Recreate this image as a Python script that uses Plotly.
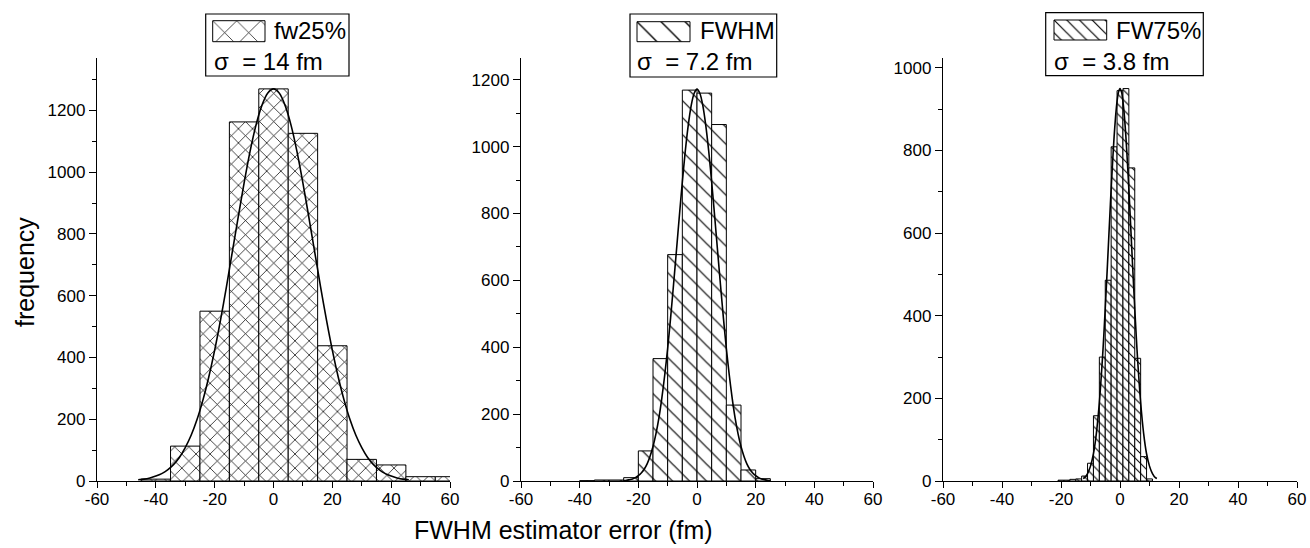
import plotly.graph_objects as go

# ---------------- data ----------------
p1_centers = [-40, -30, -20, -10, 0, 10, 20, 30, 40, 50, 60]
p1_counts = [6, 113, 550, 1163, 1270, 1126, 438, 70, 52, 14, 14]
p1_width = 10
p1_fit_x = [-46, -44, -42, -40, -38, -36, -34, -32, -30, -28, -26, -24, -22, -20, -18, -16,
            -14, -12, -10, -8, -6, -4, -2, 0, 2, 4, 6, 8, 10, 12, 14, 16, 18, 20, 22, 24,
            26, 28, 30, 32, 34, 36, 38, 40, 42, 44, 46]
p1_fit_y = [4, 6, 10, 16, 24, 36, 53, 76, 108, 148, 199, 262, 337, 424, 522, 629,
            742, 855, 965, 1066, 1151, 1215, 1256, 1270, 1256, 1215, 1151, 1066, 965, 855, 742, 629,
            522, 424, 337, 262, 199, 148, 108, 76, 53, 36, 24, 16, 10, 6, 4]

p2_centers = [-37.5, -32.5, -27.5, -22.5, -17.5, -12.5, -7.5, -2.5, 2.5, 7.5, 12.5, 17.5, 22.5]
p2_counts = [1, 3, 3, 10, 90, 366, 677, 1169, 1160, 1066, 227, 33, 7]
p2_width = 5
p2_fit_x = [-25, -24, -23, -22, -21, -20, -19, -18, -17, -16, -15, -14, -13, -12, -11, -10,
            -9, -8, -7, -6, -5, -4, -3, -2, -1, 0, 1, 2, 3, 4, 5, 6, 7, 8, 9, 10,
            11, 12, 13, 14, 15, 16, 17, 18, 19, 20, 21, 22, 23, 24, 25]
p2_fit_y = [1, 2, 4, 6, 10, 16, 24, 35, 51, 74, 103, 141, 188, 247, 317, 397,
            488, 587, 690, 794, 894, 986, 1063, 1122, 1159, 1172, 1159, 1122, 1063, 986, 894, 794,
            690, 587, 488, 397, 317, 247, 188, 141, 103, 74, 51, 35, 24, 16, 10, 6, 4, 2, 1]

p3_centers = [-20, -18, -16, -14, -12, -10, -8, -6, -4, -2, 0, 2, 4, 6, 8, 10]
p3_counts = [2, 2, 4, 5, 12, 43, 158, 300, 486, 809, 945, 950, 758, 297, 59, 5]
p3_width = 2
p3_fit_x = [-12.5, -12, -11, -10, -9, -8, -7, -6, -5.5, -5, -4.5, -4, -3.5, -3, -2.5, -2,
            -1.5, -1, -0.5, 0, 0.5, 1, 1.5, 2, 2.5, 3, 3.5, 4, 4.5, 5, 5.5, 6,
            7, 8, 9, 10, 11, 12, 12.5]
p3_fit_y = [6, 8, 18, 36, 66, 116, 190, 291, 351, 418, 488, 561, 635, 707, 773, 833,
            882, 919, 942, 950, 942, 919, 882, 833, 773, 707, 635, 561, 488, 418, 351, 291,
            190, 116, 66, 36, 18, 8, 6]

legend_names = ["fw25%", "FWHM", "FW75%"]
sigma_labels = ["σ\u00a0\u00a0= 14 fm", "σ\u00a0\u00a0= 7.2 fm", "σ\u00a0\u00a0= 3.8 fm"]
x_ticks = [-60, -40, -20, 0, 20, 40, 60]
x_tick_labels = ["-60", "-40", "-20", "0", "20", "40", "60"]
x_title = "FWHM estimator error (fm)"
y_title = "frequency"

# ---------------- layout helpers ----------------
W, H = 1310, 548
TOP_PX, BOT_PX = 10, 481          # plot-area pixel extent (margins t=10, b=67)
AX_TOP_PX = 58


def px_x(px):
    return px / W


def px_y(py):
    return (BOT_PX - py) / (BOT_PX - TOP_PX)


FONT = "Liberation Sans, Arial, sans-serif"

panels = [
    dict(centers=p1_centers, counts=p1_counts, width=p1_width, fx=p1_fit_x, fy=p1_fit_y,
         dom=(97, 450), yr=1370, shape="x", size=10, sol=0.14,
         box=(205.7, 349, 14, 76), sw=(212.7, 265, 20.7, 41.7), swsize=17, swsol=0.08,
         tx=272, sx=212),
    dict(centers=p2_centers, counts=p2_counts, width=p2_width, fx=p2_fit_x, fy=p2_fit_y,
         dom=(521, 873), yr=1265, shape="\\", size=12, sol=0.1,
         box=(630, 776.7, 14, 77), sw=(637, 690, 21.7, 41.7), swsize=17, swsol=0.08,
         tx=698, sx=635),
    dict(centers=p3_centers, counts=p3_counts, width=p3_width, fx=p3_fit_x, fy=p3_fit_y,
         dom=(943, 1297), yr=1024, shape="\\", size=7, sol=0.15,
         box=(1045.7, 1203.3, 12.7, 75.7), sw=(1054, 1106.7, 20, 40), swsize=9, swsol=0.13,
         tx=1114, sx=1052),
]

fig = go.Figure()
layout = dict(
    template="none",
    width=W, height=H,
    margin=dict(l=0, r=0, t=TOP_PX, b=H - BOT_PX, pad=0, autoexpand=False),
    paper_bgcolor="white", plot_bgcolor="white",
    showlegend=False,
    font=dict(family=FONT, size=17, color="black"),
)
shapes = []
annotations = []

ydom_top = px_y(AX_TOP_PX)

for i, p in enumerate(panels):
    k = i + 1
    xa = "x" if k == 1 else f"x{k}"
    ya = "y" if k == 1 else f"y{k}"
    fig.add_trace(go.Bar(
        x=p["centers"], y=p["counts"], width=p["width"],
        xaxis=xa, yaxis=ya,
        marker=dict(color="white",
                    line=dict(color="black", width=1),
                    pattern=dict(shape=p["shape"], size=p["size"], solidity=p["sol"],
                                 fgcolor="black", bgcolor="white")),
        hoverinfo="skip",
    ))
    fig.add_trace(go.Scatter(
        x=p["fx"], y=p["fy"], mode="lines", xaxis=xa, yaxis=ya,
        line=dict(color="black", width=1.6, shape="spline", smoothing=0.8),
        hoverinfo="skip",
    ))
    xkey = "xaxis" if k == 1 else f"xaxis{k}"
    ykey = "yaxis" if k == 1 else f"yaxis{k}"
    layout[xkey] = dict(
        domain=[px_x(p["dom"][0]), px_x(p["dom"][1])], anchor=ya, automargin=False,
        range=[-60, 60], tickvals=x_ticks, ticktext=x_tick_labels,
        ticks="outside", ticklen=6, tickwidth=1.2, ticklabelstandoff=-4,
        tickcolor="black", showline=True, linecolor="black", linewidth=1.3,
        showgrid=False, zeroline=False,
        minor=dict(dtick=10, tick0=0, ticks="outside", ticklen=4, tickwidth=1.2,
                   tickcolor="black", showgrid=False),
        tickfont=dict(family=FONT, size=17, color="black"),
    )
    layout[ykey] = dict(
        domain=[0, ydom_top], anchor=xa, automargin=False,
        range=[0, p["yr"]], dtick=200, tick0=0, ticks="outside", ticklen=7, tickwidth=1.2,
        tickcolor="black", showline=True, linecolor="black", linewidth=1.3,
        showgrid=False, zeroline=False,
        minor=dict(dtick=100, tick0=0, ticks="outside", ticklen=4, tickwidth=1.2,
                   tickcolor="black", showgrid=False),
        tickfont=dict(family=FONT, size=17, color="black"),
    )

    # legend swatch on its own hidden axes
    sk = k + 3
    sxa, sya = f"x{sk}", f"y{sk}"
    fig.add_trace(go.Scatter(
        x=[0, 1, 1, 0, 0], y=[0, 0, 1, 1, 0], mode="lines", fill="toself",
        xaxis=sxa, yaxis=sya, line=dict(width=0, color="rgba(0,0,0,0)"),
        fillcolor="white",
        fillpattern=dict(shape=p["shape"], size=p["swsize"], solidity=p["swsol"],
                         fgcolor="black", bgcolor="white"),
        hoverinfo="skip",
    ))
    sw = p["sw"]
    layout[f"xaxis{sk}"] = dict(domain=[px_x(sw[0]), px_x(sw[1])], range=[0, 1], visible=False,
                                anchor=sya, fixedrange=True, automargin=False)
    layout[f"yaxis{sk}"] = dict(domain=[px_y(sw[3]), px_y(sw[2])], range=[0, 1], visible=False,
                                anchor=sxa, fixedrange=True, automargin=False)
    shapes.append(dict(type="rect", xref="paper", yref="paper",
                       x0=px_x(sw[0]), x1=px_x(sw[1]), y0=px_y(sw[3]), y1=px_y(sw[2]),
                       line=dict(color="black", width=1)))
    b = p["box"]
    shapes.append(dict(type="rect", xref="paper", yref="paper",
                       x0=px_x(b[0]), x1=px_x(b[1]), y0=px_y(b[3]), y1=px_y(b[2]),
                       line=dict(color="black", width=1.2)))
    annotations.append(dict(text=legend_names[i], xref="paper", yref="paper",
                            x=px_x(p["tx"]), y=px_y(31), xanchor="left", yanchor="middle",
                            showarrow=False, font=dict(family=FONT, size=24, color="black")))
    annotations.append(dict(text=sigma_labels[i], xref="paper", yref="paper",
                            x=px_x(p["sx"]), y=px_y(62), xanchor="left", yanchor="middle",
                            showarrow=False, font=dict(family=FONT, size=24, color="black")))

annotations.append(dict(text=x_title, xref="paper", yref="paper", x=px_x(563), y=px_y(530),
                        xanchor="center", yanchor="middle", showarrow=False,
                        font=dict(family=FONT, size=25, color="black")))
annotations.append(dict(text=y_title, xref="paper", yref="paper", x=px_x(25), y=px_y(272),
                        xanchor="center", yanchor="middle", textangle=-90, showarrow=False,
                        font=dict(family=FONT, size=25, color="black")))

layout["shapes"] = shapes
layout["annotations"] = annotations
fig.update_layout(**layout)
fig.write_html("out.html")
